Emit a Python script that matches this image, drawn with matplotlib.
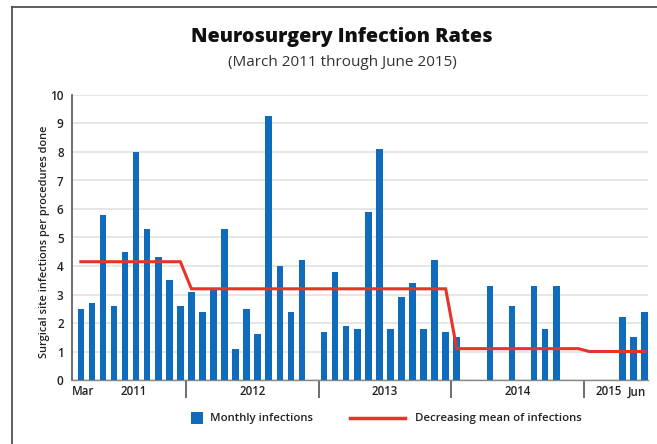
import matplotlib
matplotlib.use("Agg")
import matplotlib.pyplot as plt
from matplotlib.lines import Line2D
from matplotlib.patches import Rectangle
import numpy as np

# Monthly infections, March 2011 .. June 2015 (52 months)
infections = [2.5, 2.7, 5.8, 2.6, 4.5, 8.0, 5.3, 4.3, 3.5, 2.6,          # Mar-Dec 2011
              3.1, 2.4, 3.2, 5.3, 1.1, 2.5, 1.6, 9.25, 4.0, 2.4, 4.2, 0,  # 2012
              1.7, 3.8, 1.9, 1.8, 5.9, 8.1, 1.8, 2.9, 3.4, 1.8, 4.2, 1.7,  # 2013
              1.5, 0, 0, 3.3, 0, 2.6, 0, 3.3, 1.8, 3.3, 0, 0,               # 2014
              0, 0, 0, 2.2, 1.5, 2.4]                                      # Jan-Jun 2015
mean_line = [4.15] * 10 + [3.2] * 24 + [1.1] * 12 + [1.0] * 6

year_labels = ["Mar", "2011", "2012", "2013", "2014", "2015", "Jun"]
year_label_pos = [0.2, 4.8, 15.5, 27.5, 39.5, 47.75, 50.3]
year_sep = [9.5, 21.5, 33.5, 45.5]
y_ticks = list(range(0, 11))
legend_labels = ["Monthly infections", "Decreasing mean of infections"]

BLUE = "#0f6cbd"
RED = "#e8332b"

plt.rcParams['font.family'] = ['Open Sans', 'DejaVu Sans']

fig = plt.figure(figsize=(6.57, 4.44), dpi=100)
W, H = 657, 444
ax = fig.add_axes([72 / W, 1 - 380 / H, (648 - 72) / W, (380 - 95) / H])

x = np.arange(len(infections))
ax.bar(x, infections, width=0.6, color=BLUE, zorder=3)
ax.plot(x, mean_line, color=RED, lw=2.2, zorder=4, solid_joinstyle='miter')

ax.set_xlim(-0.8, 51.3)
ax.set_ylim(0, 10)
ax.set_yticks(y_ticks)
ax.set_yticklabels([str(v) for v in y_ticks], fontsize=8.5, fontweight='semibold', color='#222222')
ax.yaxis.grid(True, color='#e4e4e4', lw=1.3, zorder=0)
ax.tick_params(axis='y', length=0, pad=6)

ax.set_xticks(year_sep)
ax.set_xticklabels([])
ax.tick_params(axis='x', direction='out', length=13, width=1.2, color='#555555')
for lab, pos in zip(year_labels, year_label_pos):
    ax.text(pos, -0.42, lab, ha='center', va='center', fontsize=8.3, fontweight='semibold',
            color='#222222', transform=ax.transData, clip_on=False)

for s in ['top', 'right']:
    ax.spines[s].set_visible(False)
ax.spines['left'].set_color('#555555')
ax.spines['left'].set_linewidth(1.2)
ax.spines['bottom'].set_color('#888888')
ax.spines['bottom'].set_linewidth(1.0)

fig.text(45 / W, 1 - 242 / H, "Surgical site infections per procedures done", rotation=90,
         ha='center', va='center', fontsize=7.9, fontweight='semibold', color='#222222')

fig.text(342 / W, 1 - 37 / H, "Neurosurgery Infection Rates", ha='center', va='center',
         fontsize=14.2, fontweight=800, color='#111111')
fig.text(342 / W, 1 - 62 / H, "(March 2011 through June 2015)", ha='center', va='center',
         fontsize=11, fontweight='normal', color='#333333')

# Legend drawn manually
ly = 1 - 418 / H
fig.add_artist(Rectangle((191 / W, 1 - 424 / H), 12 / W, 12 / H, facecolor=BLUE,
                         edgecolor='none', transform=fig.transFigure))
fig.text(210 / W, ly, legend_labels[0], ha='left', va='center', fontsize=8.2,
         fontweight='semibold', color='#222222')
fig.add_artist(Line2D([350 / W, 405 / W], [ly, ly], color=RED, lw=2.5,
                      transform=fig.transFigure))
fig.text(415 / W, ly, legend_labels[1], ha='left', va='center', fontsize=8.2,
         fontweight='semibold', color='#222222')

# Frame lines (top and left)
fig.add_artist(Line2D([12 / W, 1], [1 - 7 / H, 1 - 7 / H], color='#444444', lw=1.2,
                      transform=fig.transFigure))
fig.add_artist(Line2D([12 / W, 12 / W], [0, 1 - 7 / H], color='#444444', lw=1.2,
                      transform=fig.transFigure))

fig.savefig("out.png", dpi=100)
